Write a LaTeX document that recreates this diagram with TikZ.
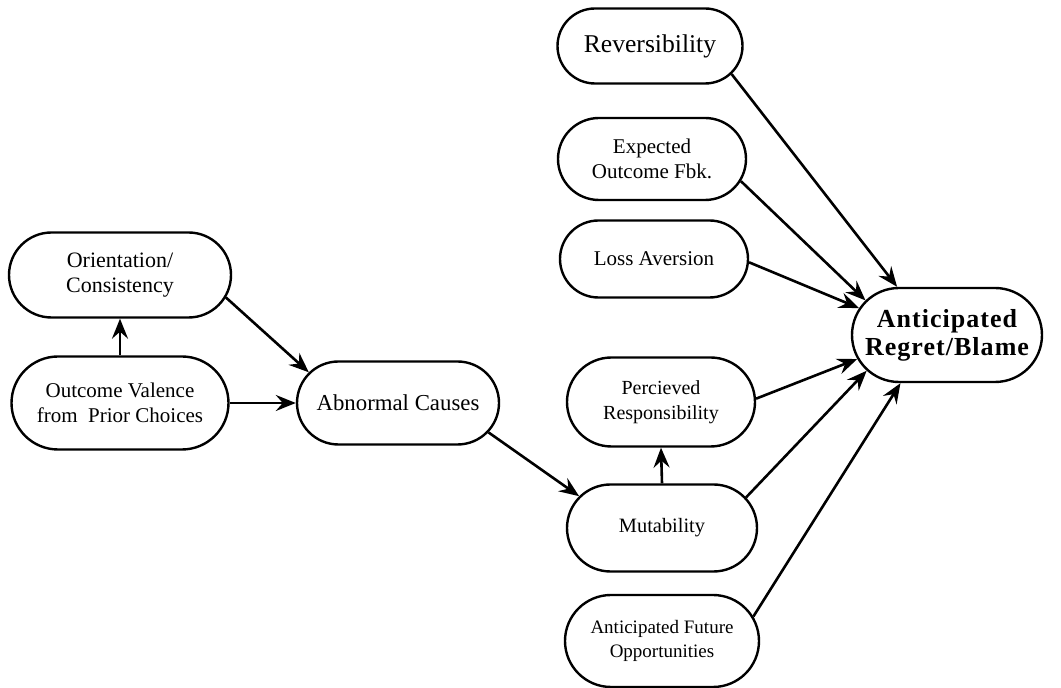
\documentclass[tikz,border=0pt]{standalone}
\usepackage{fontspec}
\setmainfont{Liberation Serif}
\usetikzlibrary{shapes.misc,arrows.meta}

\begin{document}
\begin{tikzpicture}[
    x=0.5pt, y=-0.5pt,
    factor/.style={
        rounded rectangle,
        draw,
        line width=1.2pt,
        align=center,
        inner sep=0pt,
        font=\fontsize{10.5}{12.5}\selectfont
    },
    line/.style={
        draw,
        line width=1.3pt,
        -{Stealth[length=10pt,width=8pt,inset=3.5pt]}
    }
]
\useasboundingbox (0,0) rectangle (1061,688);

% Nodes: left part
\node [factor, minimum width=111pt, minimum height=42.5pt, font=\fontsize{11}{12.5}\selectfont] (orient) at (120,275) {Orientation/\\Consistency};
\node [factor, minimum width=108.5pt, minimum height=46.5pt] (valence) at (120,403) {Outcome Valence\\from~ Prior Choices};
\node [factor, minimum width=101pt, minimum height=41.5pt, font=\fontsize{11.4}{13}\selectfont] (abnormal) at (398,403) {Abnormal Causes};

% Nodes: middle column
\node [factor, minimum width=92.5pt, minimum height=37.5pt, font=\fontsize{12.8}{14}\selectfont] (revers) at (650,46) {Reversibility};
\node [factor, minimum width=94pt, minimum height=41pt] (expected) at (652,159) {Expected\\Outcome Fbk.};
\node [factor, minimum width=94pt, minimum height=38.5pt] (loss) at (654,259) {Loss Aversion};
\node [factor, minimum width=94pt, minimum height=44.5pt, font=\fontsize{10}{12.5}\selectfont] (respons) at (661,402) {Percieved\\Responsibility};
\node [factor, minimum width=95pt, minimum height=43.5pt, font=\fontsize{10.2}{12.5}\selectfont] (mutab) at (662,528) {Mutability};
\node [factor, minimum width=97pt, minimum height=46pt, font=\fontsize{9.5}{12}\selectfont] (future) at (662,641) {Anticipated Future\\Opportunities};

% Node: outcome
\node [factor, minimum width=95pt, minimum height=47pt, font=\fontsize{13}{14}\selectfont\bfseries\addfontfeature{LetterSpace=4}] (regret) at (947,335) {Anticipated\\Regret/Blame};

% Paths
\path [line] (valence.north) -- (orient.south);
\path [line] (orient.-12) -- (abnormal.161);
\path [line] (valence.east) -- (abnormal.west);
\path [line] (abnormal.-18) -- (mutab.159);
\path [line] (mutab.north) -- (respons.south);

% Paths into the outcome
\path [line] (revers.-19) -- (regret.136);
\path [line] (expected.-14) -- (regret.157);
\path [line] (loss.-2) -- (regret.163);
\path [line] (respons.2) -- (regret.195);
\path [line] (mutab.20) -- (regret.204);
\path [line] (future.15) -- (regret.226);

\end{tikzpicture}
\end{document}
